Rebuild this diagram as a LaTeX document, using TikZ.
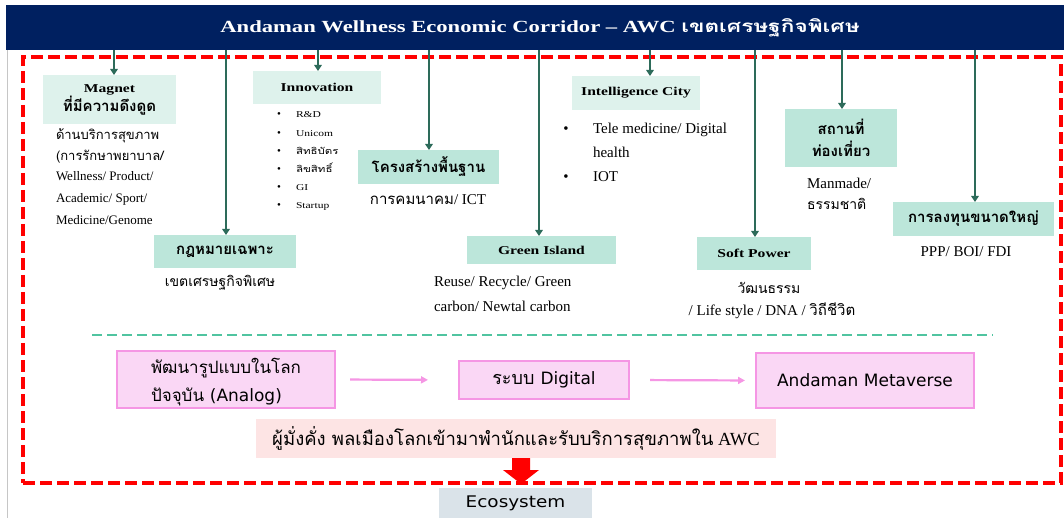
\documentclass[tikz,border=0pt]{standalone}
\usepackage{fontspec}
\setmainfont{Liberation Serif}
\newfontfamily\thai[Script=Thai]{Loma}
\newfontfamily\dvs{DejaVu Sans}
\usetikzlibrary{arrows.meta}
\newcommand\myhx[2]{\scalebox{#1}[1]{#2}}
\definecolor{navy}{RGB}{0,32,96}
\definecolor{garrowc}{RGB}{45,107,90}
\definecolor{mintlight}{RGB}{222,242,236}
\definecolor{mint}{RGB}{188,230,218}
\definecolor{tealdashc}{RGB}{80,196,160}
\definecolor{pinkfill}{RGB}{250,215,245}
\definecolor{pinkline}{RGB}{245,150,228}
\definecolor{peach}{RGB}{253,228,228}
\definecolor{ecoc}{RGB}{218,227,233}
\begin{document}
\begin{tikzpicture}[x=1pt,y=-1pt,
  every node/.style={inner sep=0pt, outer sep=0pt},
  lightbox/.style={fill=mintlight},
  darkbox/.style={fill=mint},
  hdr/.style={font=\bfseries\fontsize{12}{14}\selectfont},
  thhdr/.style={font=\thai\bfseries\fontsize{15}{22}\selectfont},
  body/.style={font=\fontsize{15}{18}\selectfont, text height=10pt, text depth=3pt},
  bodys/.style={font=\fontsize{13}{16}\selectfont, text height=9pt, text depth=3pt},
  thbody/.style={font=\thai\fontsize{14}{18}\selectfont, text height=10pt, text depth=3pt},
  small/.style={font=\fontsize{9}{11}\selectfont, text height=6pt, text depth=2pt},
  garrow/.style={draw=garrowc, line width=2.4pt, -{Triangle[length=6pt,width=7.5pt]}},
  parrow/.style={draw=pinkline, line width=2.2pt, -{Triangle[length=7pt,width=7pt]}},
  pinkbox/.style={fill=pinkfill, draw=pinkline, line width=1.6pt},
  tealdash/.style={draw=tealdashc, line width=2pt, dash pattern=on 10pt off 5pt},
  redframe/.style={draw=red, line width=3.5pt, dash pattern=on 12pt off 5pt}
]
\useasboundingbox (0,0) rectangle (1064,518);
\fill[white] (0,0) rectangle (1064,518);
\draw[gray!45, line width=0.8pt] (7,50) -- (7,518);

% title
\node[fill=navy, minimum width=1058, minimum height=45] (title) at (535,27.5) {};
\node[text=white, font=\bfseries\fontsize{17}{20}\selectfont] (ttext) at (540,28)
  {\myhx{1.33}{Andaman Wellness Economic Corridor -- AWC {\thai เขตเศรษฐกิจพิเศษ}}};

% red dashed frame
\node[redframe, minimum width=1038, minimum height=426] (frame) at (542,270) {};

% boxes
\node[lightbox, minimum width=133, minimum height=49, align=center, font=\bfseries\fontsize{12}{16}\selectfont] (mag) at (109.5,99.5)
  {\myhx{1.3}{Magnet}\\{\thai\fontsize{15}{16}\selectfont ที่มีความดึงดูด}};
\node[lightbox, minimum width=128, minimum height=33, hdr] (inno) at (317,87.5) {\myhx{1.3}{Innovation}};
\node[darkbox, minimum width=142, minimum height=33, thhdr] (law) at (225,251.5) {กฎหมายเฉพาะ};
\node[darkbox, minimum width=141, minimum height=34, thhdr] (infra) at (428.5,167) {โครงสร้างพื้นฐาน};
\node[darkbox, minimum width=149, minimum height=28, hdr] (green) at (541.5,250) {\myhx{1.3}{Green Island}};
\node[lightbox, minimum width=128, minimum height=34, hdr] (intel) at (636,93) {\myhx{1.3}{Intelligence City}};
\node[darkbox, minimum width=114, minimum height=33, hdr] (soft) at (754,253.5) {\myhx{1.3}{Soft Power}};
\node[darkbox, minimum width=112, minimum height=58, align=center, thhdr] (tour) at (841,138) {สถานที่\\ท่องเที่ยว};
\node[darkbox, minimum width=161, minimum height=34, thhdr] (invest) at (973.5,219) {การลงทุนขนาดใหญ่};

% arrows from title
\coordinate (t1) at ([xshift=4.5]mag.north);
\coordinate (t2) at ([xshift=1]inno.north);
\coordinate (t3) at ([xshift=1]law.north);
\coordinate (t4) at ([xshift=0.5]infra.north);
\coordinate (t5) at ([xshift=-2.5]green.north);
\coordinate (t6) at ([xshift=14]intel.north);
\coordinate (t7) at ([xshift=1]soft.north);
\coordinate (t8) at ([xshift=1]tour.north);
\coordinate (t9) at ([xshift=1.5]invest.north);
\foreach \t in {t1,t2,t3,t4,t5,t6,t7,t8,t9}
  \draw[garrow] (\t |- title.south) -- (\t);

% magnet body
\node[thbody, anchor=west, font=\thai\fontsize{13}{16}\selectfont] (mb1) at (56,136) {ด้านบริการสุขภาพ};
\node[thbody, anchor=west, font=\thai\fontsize{13}{16}\selectfont] (mb2) at (56,157) {(การรักษาพยาบาล/};
\node[bodys, anchor=west] (mb3) at (56,178) {Wellness/ Product/};
\node[bodys, anchor=west] (mb4) at (56,200) {Academic/ Sport/};
\node[bodys, anchor=west] (mb5) at (56,222) {Medicine/Genome};

% innovation bullets
\foreach \txt [count=\i] in {R\&D, Unicom, {\thai สิทธิบัตร}, {\thai ลิขสิทธิ์}, GI, Startup} {
  \node[small, anchor=center, font=\fontsize{11}{11}\selectfont] (ib\i) at (279,{116+18.2*(\i-1)}) {•};
  \node[small, anchor=west] (it\i) at (296,{116+18.2*(\i-1)}) {\myhx{1.28}{\txt}};
}

% law body
\node[thbody] (lawt) at (220,283) {เขตเศรษฐกิจพิเศษ};
% infra body
\node[body] (infrat) at (428,201) {{\thai การคมนาคม}/ ICT};
% green body
\node[body, anchor=west] (gt1) at (434,283) {Reuse/ Recycle/ Green};
\node[body, anchor=west] (gt2) at (434,308) {carbon/ Newtal carbon};
% intel body
\node[body] (ibu1) at (566,130) {•};
\node[body, anchor=west] (itx1) at (593,130) {Tele medicine/ Digital};
\node[body, anchor=west] (itx2) at (593,154) {health};
\node[body] (ibu2) at (566,178) {•};
\node[body, anchor=west] (itx3) at (593,178) {IOT};
% soft body
\node[thbody] (st1) at (769,290) {วัฒนธรรม};
\node[body] (st2) at (772,312) {/ Life style / DNA / {\thai วิถีชีวิต}};
% tour body
\node[body, anchor=west] (tt1) at (807,185) {Manmade/};
\node[thbody, anchor=west] (tt2) at (807,206) {ธรรมชาติ};
% invest body
\node[body] (invt) at (966,253) {PPP/ BOI/ FDI};

% separator
\draw[tealdash] (92,335) -- (993,335);

% pink flow
\node[pinkbox, minimum width=218, minimum height=57] (p1) at (226,379.5) {};
\node[align=left, font=\thai\fontsize{17}{28}\selectfont] (p1t) at (226,382)
  {พัฒนารูปแบบในโลก\\ปัจจุบัน {\dvs (Analog)}};
\node[pinkbox, minimum width=170, minimum height=38, font=\thai\fontsize{18}{20}\selectfont] (p2) at (544,380) {ระบบ {\dvs\fontsize{17}{20}\selectfont Digital}};
\node[pinkbox, minimum width=218, minimum height=55, font=\dvs\fontsize{17}{20}\selectfont] (p3) at (865,380.5) {Andaman Metaverse};
\draw[parrow, shorten <=15pt, shorten >=31pt] (p1.east) -- (p2.west);
\draw[parrow, shorten <=21pt, shorten >=11pt] (p2.east) -- (p3.west);

% peach
\node[fill=peach, minimum width=520, minimum height=39, font=\fontsize{18.5}{20}\selectfont] (peach) at (516,438.5)
  {{\thai ผู้มั่งคั่ง พลเมืองโลกเข้ามาพำนักและรับบริการสุขภาพใน} AWC};

% red block arrow
\coordinate (ra) at ([xshift=5]peach.south);
\fill[red] ([xshift=-9]ra) -- ++(18,0) -- ++(0,12) -- ++(9,0) -- ++(-18,14) -- ++(-18,-14) -- ++(9,0) -- cycle;

% ecosystem
\node[fill=ecoc, minimum width=153, minimum height=30, font=\dvs\fontsize{16}{18}\selectfont] (eco) at (515.5,503) {\myhx{1.15}{Ecosystem}};
\end{tikzpicture}
\end{document}
